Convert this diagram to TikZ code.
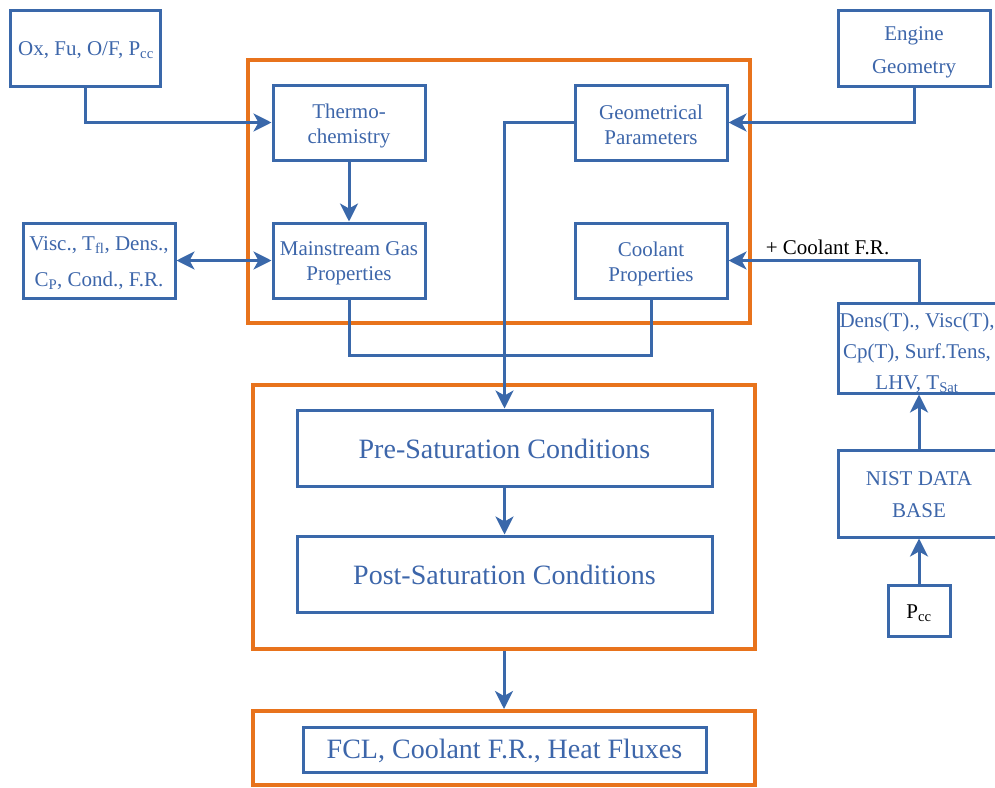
\documentclass[tikz,border=0pt]{standalone}
\usepackage{fontspec}
\setmainfont{Liberation Serif}
\usetikzlibrary{arrows.meta}
\definecolor{lblue}{HTML}{3A68AA}
\definecolor{tblue}{HTML}{3D66AA}
\definecolor{lorange}{HTML}{E8731C}
\tikzset{
  box/.style={draw=lblue, line width=3pt, inner sep=0pt, fill=white},
  txt/.style={text=tblue, align=center, inner sep=0pt},
  obox/.style={draw=lorange, line width=4pt, inner sep=0pt},
  arr/.style={draw=lblue, line width=3pt, -{Stealth[length=18pt,width=18pt,inset=5pt]}},
  ln/.style={draw=lblue, line width=3pt},
  sm/.style={font=\fontsize{21}{25}\selectfont},
  big/.style={font=\fontsize{28}{32}\selectfont},
}
\begin{document}
\begin{tikzpicture}[x=1pt,y=-1pt]
\useasboundingbox (0,0) rectangle (995,787);
% orange groups
\node[obox, minimum width=502pt, minimum height=263pt] (o1) at (499,191.5) {};
\node[obox, minimum width=502pt, minimum height=264pt] (o2) at (504,517) {};
\node[obox, minimum width=502pt, minimum height=74pt] (o3) at (504,748) {};
% boxes
\node[box, minimum width=150pt, minimum height=76pt] (ox) at (85,48) {};
\node[txt, sm] (ox-t) at (86,50) {Ox, Fu, O/F, P\textsubscript{cc}};
\node[box, minimum width=152pt, minimum height=75pt] (thermo) at (349,122.5) {};
\node[txt, sm] (thermo-t) at (349,125.5) {Thermo-\\chemistry};
\node[box, minimum width=152pt, minimum height=75pt] (main) at (349,260.5) {};
\node[txt, sm] (main-t) at (349,263.5) {Mainstream Gas\\Properties};
\node[box, minimum width=152pt, minimum height=75pt] (geom) at (651,122.5) {};
\node[txt, sm] (geom-t) at (651,125) {Geometrical\\Parameters};
\node[box, minimum width=152pt, minimum height=75pt] (cool) at (651,260.5) {};
\node[txt, sm] (cool-t) at (651,263.5) {Coolant\\Properties};
\node[box, minimum width=152pt, minimum height=76pt] (eng) at (914,48) {};
\node[txt, font=\fontsize{21}{33}\selectfont] (eng-t) at (914,52.5) {Engine\\Geometry};
\node[box, minimum width=152pt, minimum height=75pt] (visc) at (99,260.5) {};
\node[txt, font=\fontsize{21}{36}\selectfont] (visc-t) at (99,263) {Visc., T\textsubscript{fl}, Dens.,\\C\textsubscript{P}, Cond., F.R.};
\node[box, minimum width=415pt, minimum height=76pt] (pre) at (504.5,448) {};
\node[txt, big] (pre-t) at (504.5,449) {Pre-Saturation Conditions};
\node[box, minimum width=415pt, minimum height=76pt] (post) at (504.5,574) {};
\node[txt, big] (post-t) at (504.5,575) {Post-Saturation Conditions};
\node[box, minimum width=403pt, minimum height=45pt] (fcl) at (504.5,749.5) {};
\node[txt, big] (fcl-t) at (504.5,751) {FCL, Coolant F.R., Heat Fluxes};
\node[txt, font=\fontsize{21}{31}\selectfont] (dens-t) at (917,353) {Dens(T)., Visc(T),\\Cp(T), Surf.Tens,\\LHV, T\textsubscript{Sat}};
\node[box, fill=none, minimum width=162pt, minimum height=90pt] (densT) at (919,348) {};
\node[box, minimum width=162pt, minimum height=87pt] (nist) at (919,493.5) {};
\node[txt, font=\fontsize{21}{32}\selectfont] (nist-t) at (919,494.5) {NIST DATA\\BASE};
\node[box, minimum width=62pt, minimum height=51pt] (pcc) at (919,610.5) {};
\node[txt, sm, text=black] (pcc-t) at (919,613) {P\textsubscript{cc}};
% connectors
\draw[arr] (ox.south) |- (thermo.west);
\draw[arr] (thermo.south) -- (main.north);
\draw[ln, {Stealth[length=18pt,width=18pt,inset=5pt]}-{Stealth[length=18pt,width=18pt,inset=5pt]}] (visc.east) -- (main.west);
\draw[arr] (eng.south) |- (geom.east);
\draw[ln] (main.south) -- ++(0,56) -| (cool.south);
\draw[arr] (geom.west) -| (pre.north);
\draw[arr] (pre.south) -- (post.north);
\draw[arr] (o2.south) -- (o3.north);
\draw[arr] (densT.north) |- node[pos=0.74, above=1pt, text=black, font=\fontsize{21}{25}\selectfont] (cfr) {+ Coolant F.R.} (cool.east);
\draw[arr] (nist.north) -- (densT.south);
\draw[arr] (pcc.north) -- (nist.south);
\end{tikzpicture}
\end{document}
